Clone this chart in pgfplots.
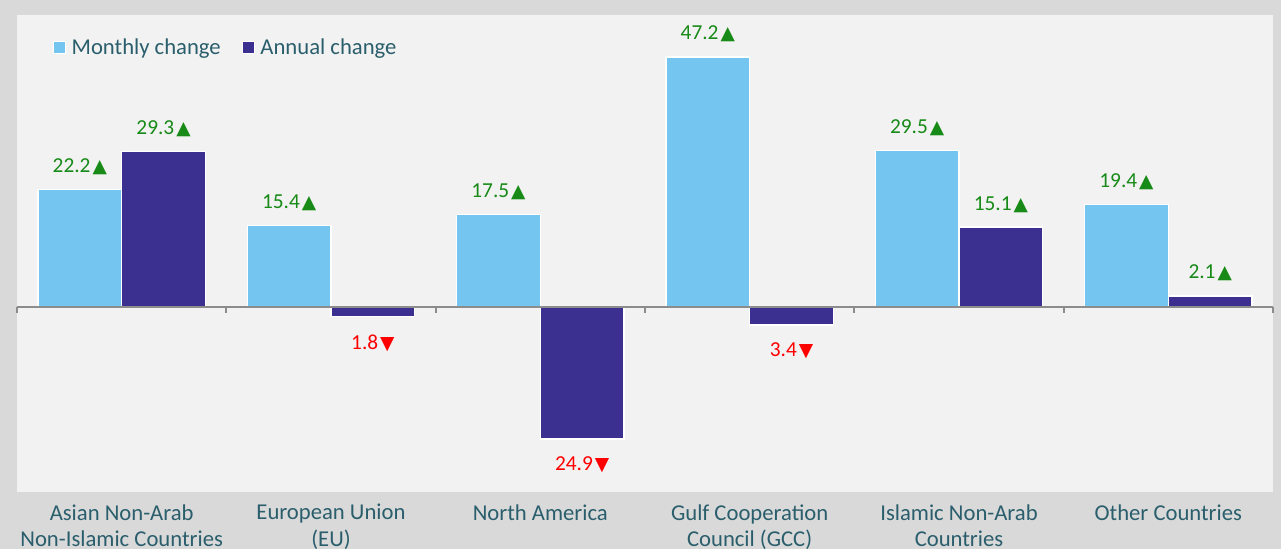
\documentclass[border=0pt]{standalone}
\usepackage{pgfplots}
\pgfplotsset{compat=1.18}
\usepackage{fontspec}
\setmainfont{Carlito}
\newfontfamily\symfont{DejaVu Sans}
\definecolor{bgout}{HTML}{D9D9D9}
\definecolor{bgin}{HTML}{F2F2F2}
\definecolor{lblue}{HTML}{74C6F0}
\definecolor{dpurple}{HTML}{3B2F8F}
\definecolor{txt}{HTML}{2A5E6C}
\definecolor{posg}{HTML}{178A17}
\definecolor{negr}{HTML}{FF0000}
\definecolor{linegray}{HTML}{8C8C8C}
\newcommand\up[1]{\textcolor{posg}{#1\kern1.5pt{\symfont\fontsize{14}{14}\selectfont\char"25B2}}}
\newcommand\dn[1]{\textcolor{negr}{#1\kern1.5pt{\symfont\fontsize{14}{14}\selectfont\char"25BC}}}
\begin{document}
\begin{tikzpicture}
\useasboundingbox (0,0) rectangle (960.75pt,411.75pt);
\fill[bgout] (0,0) rectangle (960.75pt,411.75pt);
\begin{axis}[
 at={(12.75pt,42.75pt)}, anchor=south west,
 scale only axis, width=942pt, height=357.75pt,
 axis background/.style={fill=bgin},
 axis line style={draw=none},
 xmin=-0.5, xmax=5.5, ymin=-34.9, ymax=55.1,
 ytick=\empty,
 xtick={0,...,5},
 xticklabels={{Asian Non-Arab\\Non-Islamic Countries},{European Union\\(EU)},{North America},{Gulf Cooperation\\Council (GCC)},{Islamic Non-Arab\\Countries},{Other Countries}},
 major tick length=0pt,
 xticklabel style={align=center, font=\fontsize{17}{20}\selectfont, text=txt, inner sep=0pt, yshift=-9pt},
 ybar, bar width=0.4,
 clip=false,
 point meta=explicit symbolic,
 nodes near coords,
 every node near coord/.append style={font=\fontsize{16}{18}\selectfont, inner xsep=0pt, inner ysep=10.5pt},
 legend image code/.code={\draw[#1,draw=white,line width=0.75pt] (0pt,-4.5pt) rectangle (9pt,4.5pt);},
 legend columns=-1,
 legend style={at={(0.0287,0.931)}, anchor=west, draw=none, fill=none, inner sep=0pt,
   font=\fontsize{17}{19}\selectfont, text=txt,
   /tikz/every even column/.append style={column sep=14pt},
   /tikz/every odd column/.append style={column sep=2pt}},
]
\addplot[fill=lblue, draw=white, line width=1pt, bar shift=-0.2] coordinates {
 (0,22.2) [\up{22.2}]
 (1,15.4) [\up{15.4}]
 (2,17.5) [\up{17.5}]
 (3,47.2) [\up{47.2}]
 (4,29.5) [\up{29.5}]
 (5,19.4) [\up{19.4}]
};
\addlegendentry{Monthly change}
\addplot[fill=dpurple, draw=white, line width=1pt, bar shift=0.2] coordinates {
 (0,29.3) [\up{29.3}]
 (4,15.1) [\up{15.1}]
 (5,2.1) [\up{2.1}]
};
\addlegendentry{Annual change}
\addplot[fill=dpurple, draw=white, line width=1pt, bar shift=0.2, forget plot,
  every node near coord/.append style={anchor=north, yshift=-2.5pt}] coordinates {
 (1,-1.8) [\dn{1.8}]
 (2,-24.9) [\dn{24.9}]
 (3,-3.4) [\dn{3.4}]
};
\draw[linegray, line width=1.5pt] (axis cs:-0.5,0) -- (axis cs:5.5,0);
\pgfplotsinvokeforeach{-0.5,0.5,1.5,2.5,3.5,4.5,5.5}{
 \draw[linegray, line width=1.5pt] (axis cs:#1,0) -- ([yshift=-4.5pt]axis cs:#1,0);
}
\end{axis}
\end{tikzpicture}
\end{document}
